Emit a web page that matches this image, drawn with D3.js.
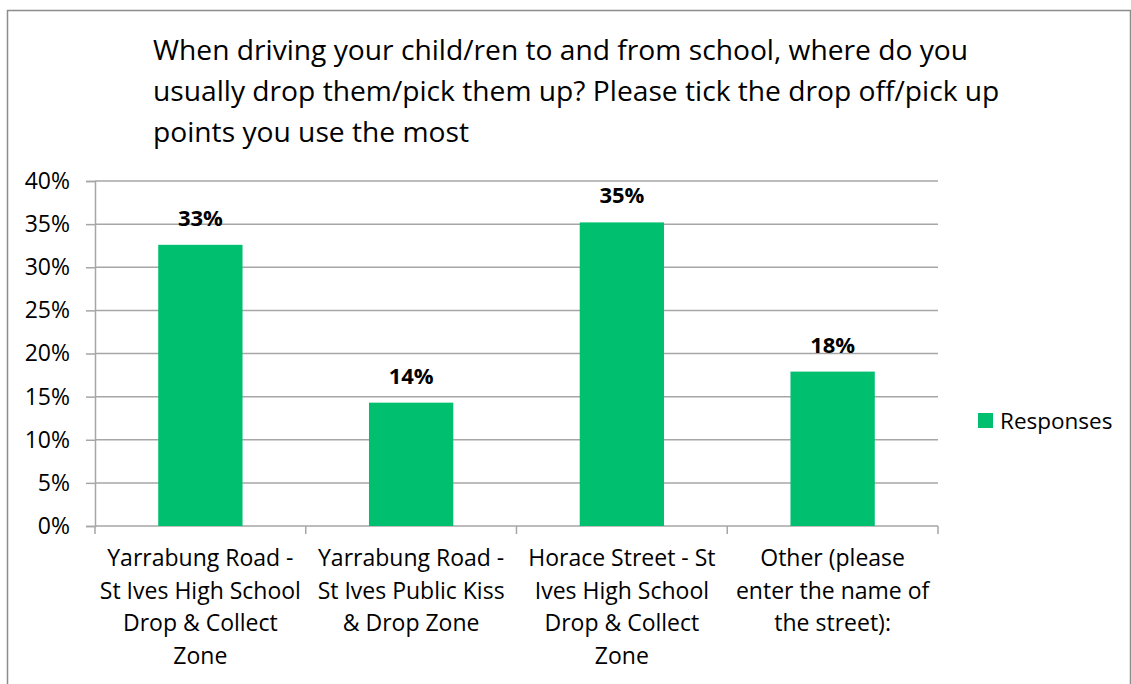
<!DOCTYPE html>
<html>
<head>
  <script src="https://d3js.org/d3.v7.min.js"></script>
  <style>
    body { margin: 0; padding: 0; background: #fff; }
    text { font-family: "Open Sans", "Noto Sans", sans-serif; fill: #000; }
    .title { font-size: 28.2px; }
    .axis text { font-size: 23px; }
    .cat { font-size: 23px; }
    .valueLabel { font-size: 22px; font-weight: bold; }
    .legend { font-size: 22.5px; }
  </style>
</head>
<body>
  <div id="chart"></div>
  <script>
    // data
    var categories = [
      ["Yarrabung Road -", "St Ives High School", "Drop & Collect", "Zone"],
      ["Yarrabung Road -", "St Ives Public Kiss", "& Drop Zone"],
      ["Horace Street - St", "Ives High School", "Drop & Collect", "Zone"],
      ["Other (please", "enter the name of", "the street):"]
    ];
    var responses = [0.326, 0.143, 0.352, 0.179];
    var valueLabels = ["33%", "14%", "35%", "18%"];
    var yTicks = [0, 0.05, 0.10, 0.15, 0.20, 0.25, 0.30, 0.35, 0.40];
    var titleLines = [
      "When driving your child/ren to and from school, where do you",
      "usually drop them/pick them up? Please tick the drop off/pick up",
      "points you use the most"
    ];
    var seriesName = "Responses";

    var width = 1131, height = 684;
    var margin = {top: 181, left: 95, right: 193, bottom: 158};
    var green = "#00bf6f";

    var svg = d3.select("#chart").append("svg")
      .attr("width", width)
      .attr("height", height);

    // outer frame
    svg.append("rect")
      .attr("x", 7.5).attr("y", 10.5)
      .attr("width", width - 8).attr("height", height)
      .attr("fill", "none")
      .attr("stroke", "#8c8c8c")
      .attr("stroke-width", 1.5);

    // title
    svg.append("text")
      .attr("class", "title")
      .selectAll("tspan")
      .data(titleLines)
      .enter().append("tspan")
        .attr("x", 153)
        .attr("y", function(d, i) { return 60 + i * 41; })
        .text(function(d) { return d; });

    var xScale = d3.scaleBand()
      .domain(d3.range(categories.length))
      .range([margin.left, width - margin.right])
      .paddingInner(0.6)
      .paddingOuter(0.3);

    var yScale = d3.scaleLinear()
      .domain([0, 0.4])
      .range([height - margin.bottom, margin.top]);

    // y axis
    var yAxis = svg.append("g")
      .attr("class", "axis")
      .attr("transform", `translate(${margin.left},0)`)
      .call(d3.axisLeft(yScale)
        .tickValues(yTicks)
        .tickFormat(d3.format(".0%"))
        .tickSize(9)
        .tickPadding(16));
    yAxis.select(".domain").attr("stroke", "#a6a6a6").attr("stroke-width", 1.5);
    yAxis.selectAll(".tick line").attr("stroke", "#a6a6a6").attr("stroke-width", 1.5);

    // gridlines
    svg.append("g")
      .selectAll("line")
      .data(yTicks.slice(1))
      .enter().append("line")
        .attr("x1", margin.left).attr("x2", width - margin.right)
        .attr("y1", function(d) { return yScale(d); })
        .attr("y2", function(d) { return yScale(d); })
        .attr("stroke", "#a6a6a6")
        .attr("stroke-width", 1.5);

    // x axis (category boundaries)
    var step = xScale.step();
    var bounds = d3.range(categories.length + 1).map(function(i) { return margin.left + i * step; });
    var y0 = yScale(0);
    svg.append("line")
      .attr("x1", margin.left).attr("x2", width - margin.right)
      .attr("y1", y0).attr("y2", y0)
      .attr("stroke", "#a6a6a6").attr("stroke-width", 1.5);
    svg.append("g").selectAll("line")
      .data(bounds)
      .enter().append("line")
        .attr("x1", function(d) { return d; }).attr("x2", function(d) { return d; })
        .attr("y1", y0).attr("y2", y0 + 8)
        .attr("stroke", "#a6a6a6").attr("stroke-width", 1.5);

    // bars
    svg.append("g").selectAll("rect")
      .data(responses)
      .enter().append("rect")
        .attr("x", function(d, i) { return xScale(i); })
        .attr("y", function(d) { return yScale(d); })
        .attr("width", xScale.bandwidth())
        .attr("height", function(d) { return y0 - yScale(d); })
        .attr("fill", green);

    // value labels
    svg.append("g").selectAll("text")
      .data(responses)
      .enter().append("text")
        .attr("class", "valueLabel")
        .attr("x", function(d, i) { return xScale(i) + xScale.bandwidth() / 2; })
        .attr("y", function(d) { return yScale(d) - 19; })
        .attr("text-anchor", "middle")
        .text(function(d, i) { return valueLabels[i]; });

    // category labels
    var cat = svg.append("g").selectAll("text")
      .data(categories)
      .enter().append("text")
        .attr("class", "cat")
        .attr("text-anchor", "middle");
    cat.selectAll("tspan")
      .data(function(d, i) { return d.map(function(s) { return {s: s, i: i}; }); })
      .enter().append("tspan")
        .attr("x", function(d) { return xScale(d.i) + xScale.bandwidth() / 2; })
        .attr("y", function(d, j) { return 566 + j * 32.5; })
        .text(function(d) { return d.s; });

    // legend
    var legend = svg.append("g");
    legend.append("rect")
      .attr("x", 978).attr("y", 413)
      .attr("width", 15).attr("height", 15)
      .attr("fill", green);
    legend.append("text")
      .attr("class", "legend")
      .attr("x", 1000).attr("y", 429)
      .text(seriesName);
  </script>
</body>
</html>
